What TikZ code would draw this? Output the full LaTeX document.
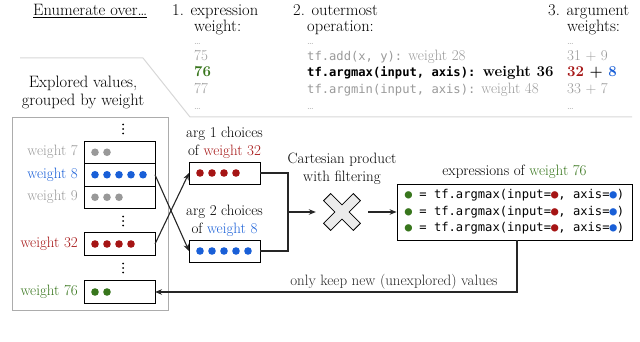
\documentclass[tikz,border=0pt]{standalone}
\usepackage{fontspec}
\setmonofont{DejaVu Sans Mono}[Scale=0.81]
\usetikzlibrary{arrows.meta,positioning}
\definecolor{wred}{RGB}{165,20,20}
\definecolor{wblue}{RGB}{25,95,215}
\definecolor{wgreen}{RGB}{56,118,29}
\definecolor{wgray}{RGB}{153,153,153}
\definecolor{lgray}{RGB}{215,215,215}
\definecolor{xgray}{RGB}{235,235,235}
\begin{document}
\begin{tikzpicture}[x=1pt,y=-1pt,
	wbox/.style={draw,line width=0.7pt,minimum width=71,minimum height=22.5,inner sep=0,outer sep=0},
	hdr/.style={anchor=base west,inner sep=0,font=\fontsize{16.5}{19}\selectfont},
	row/.style={anchor=base west,inner sep=0,font=\fontsize{15}{17}\selectfont},
	lbl/.style={inner sep=0,font=\fontsize{15}{18}\selectfont},
	arr/.style={-{Stealth[length=7pt,width=5.5pt]},line width=1.1pt,color=black!85}]
	\useasboundingbox (0,0) rectangle (640,342);
	% header of the table
	\node [hdr] at (33,16) (enum) {\underline{Enumerate over\ldots}};
	\node [hdr] at (172,16) (c1a) {1. expression};
	\node [hdr] at (194,32) (c1b) {weight:};
	\node [hdr] at (293,16) (c2a) {2. outermost};
	\node [hdr] at (307,32) (c2b) {operation:};
	\node [hdr] at (548,16) (c3a) {3. argument};
	\node [hdr] at (567,32) (c3b) {weights:};
	\foreach \x/\n in {194/a,307/b,567/c}{
		\node [row,text=wgray!80,font=\fontsize{10}{10}\selectfont] at (\x,45) (d1\n) {\ldots};
		\node [row,text=wgray!80,font=\fontsize{10}{10}\selectfont] at (\x,110) (d2\n) {\ldots};
	}
	\node [row,text=wgray] at (194,60.5) (r1a) {75};
	\node [row,text=wgray] at (307,60.5) (r1b) {\texttt{tf.add(x, y):} weight 28};
	\node [row,text=wgray] at (567,60.5) (r1c) {31 + 9};
	\node [row,text=wgreen] at (194,77) (r2a) {\textbf{76}};
	\node [row] at (307,77) (r2b) {\textbf{\texttt{tf.argmax(input, axis):} weight 36}};
	\node [row] at (567,77) (r2c) {\textbf{\textcolor{wred}{32} + \textcolor{wblue}{8}}};
	\node [row,text=wgray] at (194,93.5) (r3a) {77};
	\node [row,text=wgray] at (307,93.5) (r3b) {\texttt{tf.argmin(input, axis):} weight 48};
	\node [row,text=wgray] at (567,93.5) (r3c) {33 + 7};
	\draw [lgray,line width=1pt] (20,58) -- (143,58) -- (190,117) -- (632,117);
	% explored values
	\node [hdr,anchor=base] at (83,88) (ex1) {Explored values,};
	\node [hdr,anchor=base] at (83,106) (ex2) {grouped by weight};
	\draw [lgray!80!black,line width=0.8pt] (12,117) rectangle (168,310);
	\node [wbox] at (119.5,152.25) (w7) {};
	\node [wbox,below=0pt of w7] (w8) {};
	\node [wbox,below=0pt of w8] (w9) {};
	\node [wbox] at (119.5,244) (w32) {};
	\node [wbox] at (119.5,292) (w76) {};
	\foreach \y in {129,221,268}{
		\foreach \d in {-4.5,0,4.5}{\fill (123,\y+\d) circle (1pt);}
	}
	\node [lbl,text=wgray,left=6pt of w7] (l7) {weight 7};
	\node [lbl,text=wblue,left=6pt of w8] (l8) {weight 8};
	\node [lbl,text=wgray,left=6pt of w9] (l9) {weight 9};
	\node [lbl,text=wred,left=6pt of w32] (l32) {weight 32};
	\node [lbl,text=wgreen,left=6pt of w76] (l76) {weight 76};
	\foreach \i in {0,1}{\fill [wgray] ([xshift=11+12*\i]w7.west) circle (3.8pt);}
	\foreach \i in {0,...,4}{\fill [wblue] ([xshift=11+12*\i]w8.west) circle (3.8pt);}
	\foreach \i in {0,...,2}{\fill [wgray] ([xshift=11+12*\i]w9.west) circle (3.8pt);}
	\foreach \i in {0,...,3}{\fill [wred] ([xshift=11+12*\i]w32.west) circle (3.8pt);}
	\foreach \i in {0,1}{\fill [wgreen] ([xshift=11+12*\i]w76.west) circle (3.8pt);}
	% argument choices
	\node [wbox,minimum height=22] at (224.5,173) (a1) {};
	\node [wbox,minimum height=22] at (224.5,251) (a2) {};
	\node [lbl,align=center,above=3pt of a1] (a1l) {arg 1 choices\\of \textcolor{wred}{weight 32}};
	\node [lbl,align=center,above=3pt of a2] (a2l) {arg 2 choices\\of \textcolor{wblue}{weight 8}};
	\foreach \i in {0,...,3}{\fill [wred] ([xshift=11+12*\i]a1.west) circle (3.8pt);}
	\foreach \i in {0,...,4}{\fill [wblue] ([xshift=11+12*\i]a2.west) circle (3.8pt);}
	\draw [arr] (w8.east) -- (a2.west);
	\draw [arr] (w32.east) -- (a1.west);
	% product
	\coordinate (mrg) at (288,212);
	\node [minimum size=52,inner sep=0] at (342,212) (prod) {};
	\draw [line width=1.1pt,color=black!85] (a1.east) -| (mrg) |- (a2.east);
	\draw [arr] (mrg) -- (prod.west);
	\draw [fill=xgray,line width=0.8pt,shift={(prod.center)},rotate=45]
		(5,21) -- (5,5) -- (21,5) -- (21,-5) -- (5,-5) -- (5,-21) -- (-5,-21) -- (-5,-5)
		-- (-21,-5) -- (-21,5) -- (-5,5) -- (-5,21) -- cycle;
	\node [lbl,align=center,above=1pt of prod] (prodl) {Cartesian product\\with filtering};
	% expressions
	\node [draw,line width=0.8pt,align=left,inner sep=5pt,minimum width=235,minimum height=56,
		font=\fontsize{15}{16.5}\selectfont\ttfamily] at (514.5,212) (expr)
		{\textcolor{wgreen}{●} = tf.argmax(input=\textcolor{wred}{●}, axis=\textcolor{wblue}{●})\\
		\textcolor{wgreen}{●} = tf.argmax(input=\textcolor{wred}{●}, axis=\textcolor{wblue}{●})\\
		\textcolor{wgreen}{●} = tf.argmax(input=\textcolor{wred}{●}, axis=\textcolor{wblue}{●})};
	\node [lbl,above=5pt of expr] (exprl) {expressions of \textcolor{wgreen}{weight 76}};
	\draw [arr] (prod.east) -- (expr.west);
	\coordinate (fb) at (517,292);
	\draw [arr,line width=1.5pt] (expr.south -| fb) |- node [lbl,pos=0.67,above=2pt] {only keep new (unexplored) values} (w76.east);
\end{tikzpicture}
\end{document}
